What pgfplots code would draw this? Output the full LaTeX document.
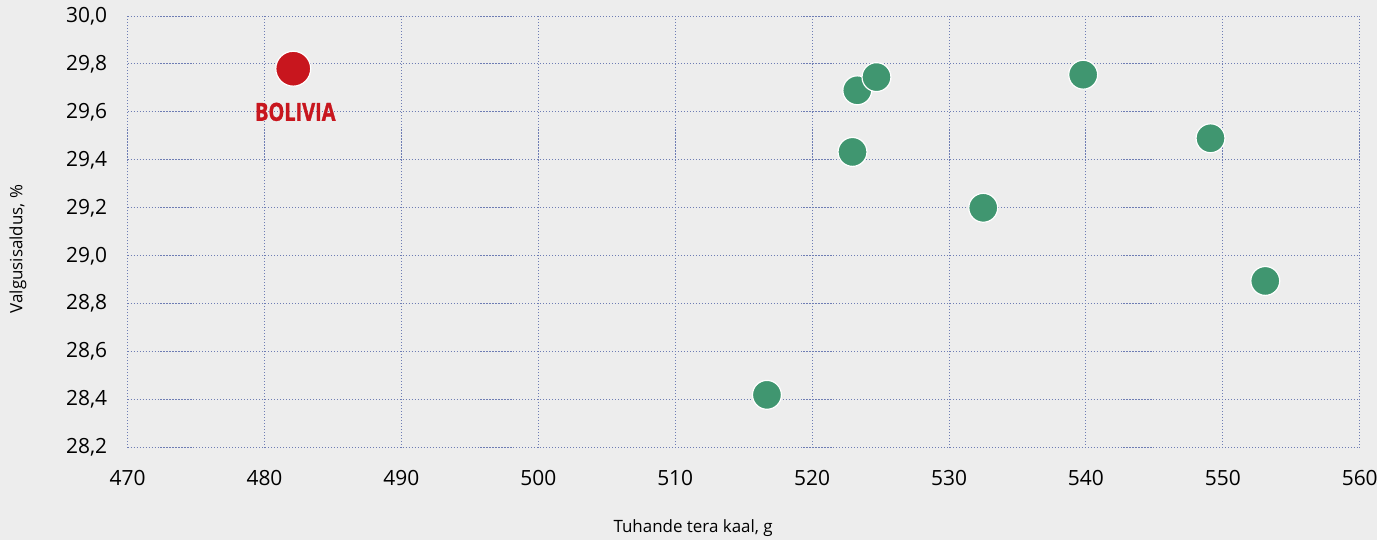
\documentclass[border=0pt]{standalone}
\usepackage{fontspec}
\setmainfont{Open Sans}
\newfontfamily\boldcond{Open Sans}[FakeStretch=0.8, FakeBold=1.2]
\usepackage{pgfplots}
\pgfplotsset{compat=1.18}
\definecolor{bgc}{HTML}{EDEDED}
\definecolor{gridc}{RGB}{110,125,180}
\definecolor{greenpt}{RGB}{64,150,112}
\definecolor{redpt}{RGB}{200,22,30}
\begin{document}
\begin{tikzpicture}
\fill[bgc] (-128pt,-93pt) rectangle (1253pt,449pt);
\begin{axis}[
  scale only axis,
  width=1236pt, height=433pt,
  xmin=470, xmax=560, ymin=28.2, ymax=30.0,
  xtick={470,480,...,560},
  ytick={28.2,28.4,28.6,28.8,29.0,29.2,29.4,29.6,29.8,30.0},
  grid=major,
  major grid style={gridc, line width=0.9pt, dash pattern=on 1.1pt off 1.9pt},
  axis line style={draw=none},
  major tick length=0pt,
  tick label style={font=\fontsize{21}{24}\selectfont, black},
  /pgf/number format/assume math mode=true,
  yticklabel style={/pgf/number format/.cd, use comma, fixed, fixed zerofill, precision=1, /tikz/.cd, xshift=-17pt},
  xticklabel style={/pgf/number format/.cd, 1000 sep={}, /tikz/.cd, yshift=-19pt},
  xlabel={Tuhande tera kaal, g},
  ylabel={Valgusisaldus, \%},
  label style={font=\fontsize{17}{20}\selectfont, black},
  xlabel style={at={(axis description cs:0.459,-0.187)}, anchor=center},
  ylabel style={at={(axis description cs:-0.089,0.46)}, anchor=center},
  clip=false,
]
\addplot[only marks, mark=*, mark size=14.5pt, mark options={fill=greenpt, draw=white, line width=1.2pt}] coordinates {
  (516.7,28.42)
  (522.95,29.433)
  (523.3,29.69)
  (524.7,29.745)
  (532.5,29.20)
  (539.8,29.755)
  (549.1,29.49)
  (553.1,28.895)
};
\addplot[only marks, mark=*, mark size=17.5pt, mark options={fill=redpt, draw=white, line width=1.2pt}] coordinates {
  (482.1,29.78)
};
\node[text=redpt, font=\boldcond\bfseries\fontsize{25}{28}\selectfont, anchor=center] at (axis cs:482.25,29.6) {BOLIVIA};
\end{axis}
\end{tikzpicture}
\end{document}
